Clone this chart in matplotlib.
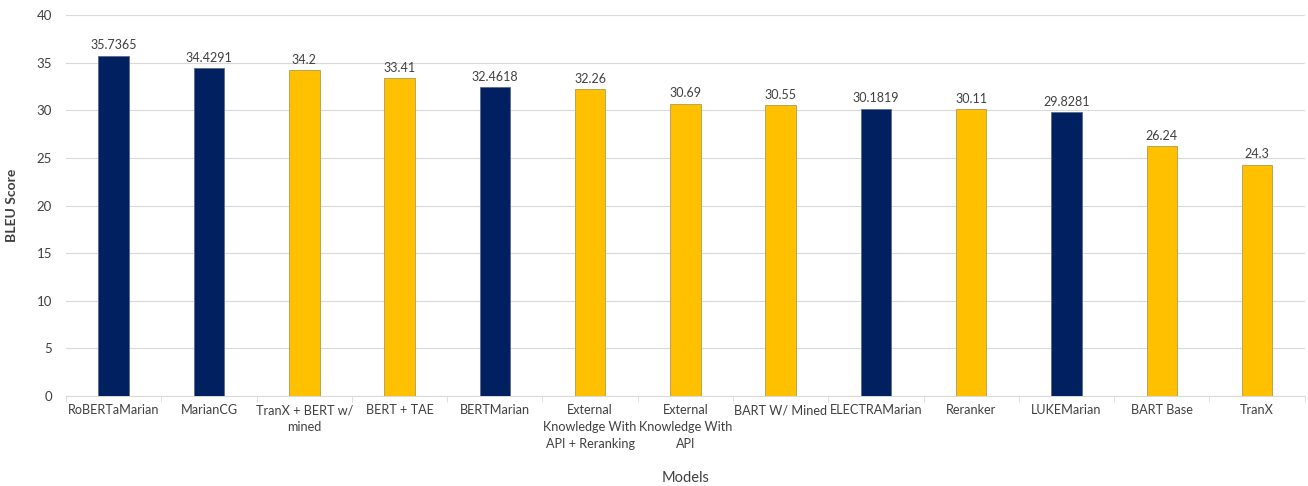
import matplotlib.pyplot as plt

models = ['RoBERTaMarian', 'MarianCG', 'TranX + BERT w/\nmined', 'BERT + TAE',
          'BERTMarian', 'External\nKnowledge With\nAPI + Reranking',
          'External\nKnowledge With\nAPI', 'BART W/ Mined', 'ELECTRAMarian',
          'Reranker', 'LUKEMarian', 'BART Base', 'TranX']
scores = [35.7365, 34.4291, 34.2, 33.41, 32.4618, 32.26, 30.69, 30.55,
          30.1819, 30.11, 29.8281, 26.24, 24.3]
labels = ['35.7365', '34.4291', '34.2', '33.41', '32.4618', '32.26', '30.69',
          '30.55', '30.1819', '30.11', '29.8281', '26.24', '24.3']
ours = [True, True, False, False, True, False, False, False, True, False,
        True, False, False]

navy = '#002060'
gold = '#FFC000'
text_col = '#404040'

plt.rcParams['font.family'] = ['Lato', 'DejaVu Sans']

fig = plt.figure(figsize=(13.08, 4.86), dpi=100)
ax = fig.add_axes([0.0505, 0.185, 0.947, 0.784])

x = list(range(len(models)))
colors = [navy if o else gold for o in ours]
edges = ['#5a6b8c' if o else '#b09a50' for o in ours]
bars = ax.bar(x, scores, width=0.32, color=colors, edgecolor=edges,
              linewidth=0.6, zorder=3)

# value labels above each bar
for b, lab in zip(bars, labels):
    ax.text(b.get_x() + b.get_width() / 2, b.get_height() + 0.45, lab,
            ha='center', va='bottom', fontsize=9, color=text_col)

ax.set_xlim(-0.5, len(models) - 0.5)
ax.set_ylim(0, 40)
ax.set_yticks(range(0, 41, 5))
ax.grid(axis='y', color='#d9d9d9', linewidth=0.8, zorder=0)
ax.set_axisbelow(True)

ax.set_xticks(x)
ax.set_xticklabels(models, fontsize=9.1, color=text_col, linespacing=1.5)
# small separators between categories
ax.set_xticks([i + 0.5 for i in range(-1, len(models))], minor=True)
ax.tick_params(axis='x', which='major', length=0, pad=6)
ax.tick_params(axis='x', which='minor', length=4, color='#d9d9d9')
ax.tick_params(axis='y', length=0, labelsize=9.5, labelcolor=text_col, pad=10)

for s in ['top', 'right', 'left']:
    ax.spines[s].set_visible(False)
ax.spines['bottom'].set_color('#d9d9d9')

ax.set_ylabel('BLEU Score', fontsize=10, color=text_col, fontweight='bold')
ax.yaxis.set_label_coords(-0.039, 0.5)
ax.set_xlabel('Models', fontsize=10.5, color=text_col, va='center')
ax.xaxis.set_label_coords(0.5, -0.215)

plt.savefig('out.png', dpi=100)
plt.close()
